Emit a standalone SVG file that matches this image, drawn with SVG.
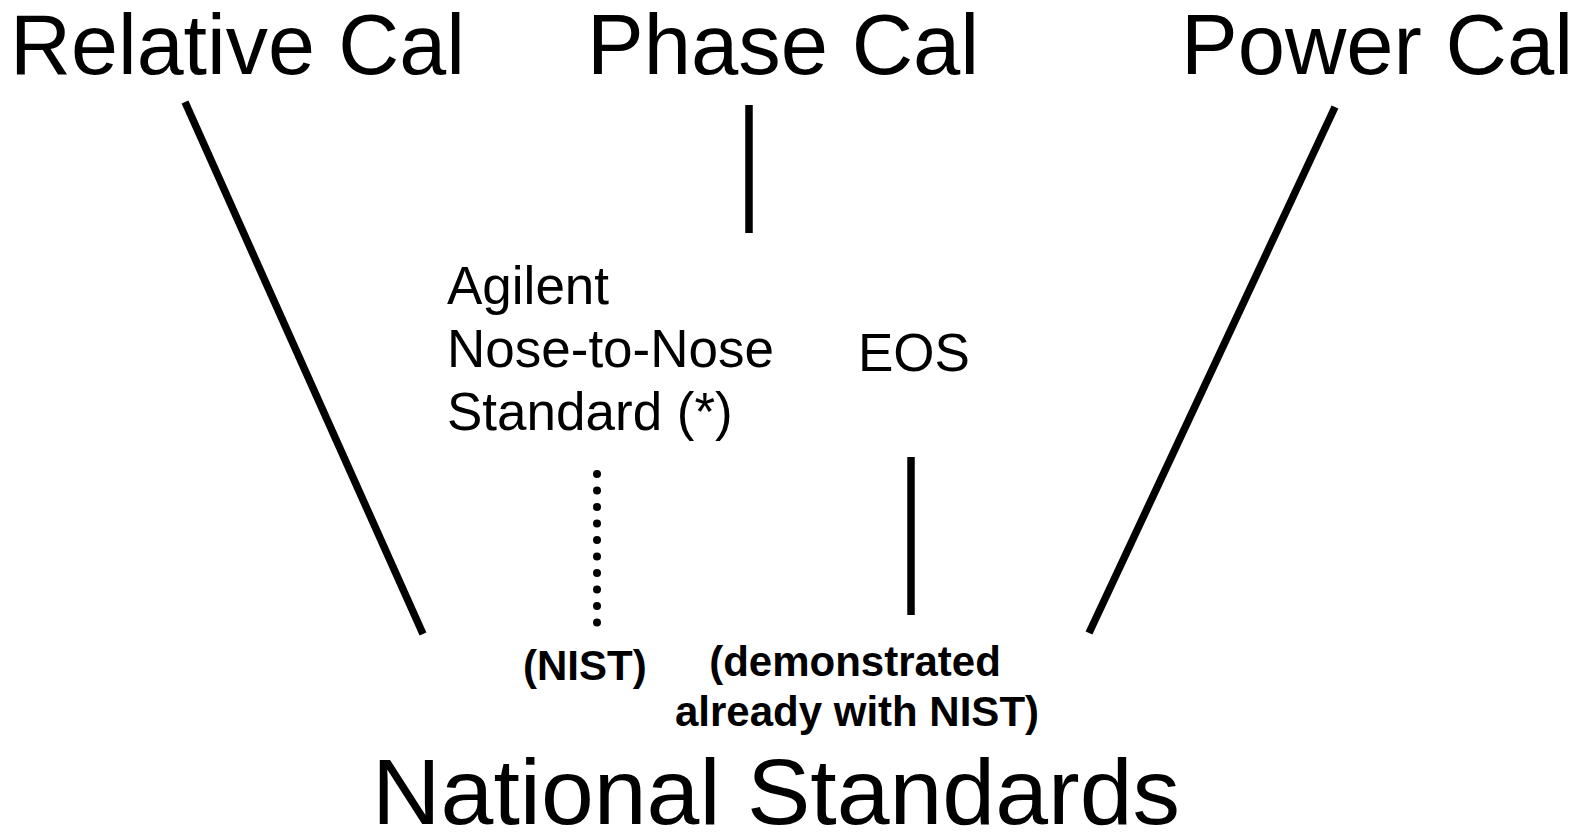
<svg xmlns="http://www.w3.org/2000/svg" width="1586" height="833" viewBox="0 0 1586 833">
<style>
.t{font-family:"Liberation Sans",Arial,sans-serif;fill:#000}
.big{font-size:85px}
.mid{font-size:53px}
.sm{font-size:42px;font-weight:bold}
.ln{stroke:#000;stroke-width:7.5;fill:none}
.dot{stroke:#000;stroke-width:8;stroke-linecap:round;stroke-dasharray:0 16.5;fill:none}
</style>
<rect width="1586" height="833" fill="#fff"/>
<g id="relative-cal"><text class="t big" x="10" y="74" textLength="455" lengthAdjust="spacingAndGlyphs">Relative Cal</text></g>
<g id="phase-cal"><text class="t big" x="587" y="74">Phase Cal</text></g>
<g id="power-cal"><text class="t big" x="1181" y="74">Power Cal</text></g>
<g id="agilent"><text class="t mid" x="447"><tspan x="447" y="304">Agilent</tspan><tspan x="447" y="367">Nose-to-Nose</tspan><tspan x="447" y="430">Standard (*)</tspan></text></g>
<g id="eos"><text class="t mid" x="858" y="371">EOS</text></g>
<g id="nist"><text class="t sm" x="523" y="680">(NIST)</text></g>
<g id="demonstrated"><text class="t sm" text-anchor="middle"><tspan x="855" y="676">(demonstrated</tspan><tspan x="857" y="726">already with NIST)</tspan></text></g>
<g id="national-standards"><text class="t" style="font-size:93px" x="372" y="824" textLength="808" lengthAdjust="spacingAndGlyphs">National Standards</text></g>
<g id="connectors">
<line class="ln" x1="185" y1="102" x2="423" y2="634"/>
<line class="ln" x1="749" y1="105" x2="749" y2="233"/>
<line class="ln" x1="1335" y1="107" x2="1089" y2="633"/>
<line class="ln" x1="911" y1="457" x2="911" y2="615"/>
<line class="dot" x1="597" y1="474" x2="597" y2="623"/>
</g>
</svg>
